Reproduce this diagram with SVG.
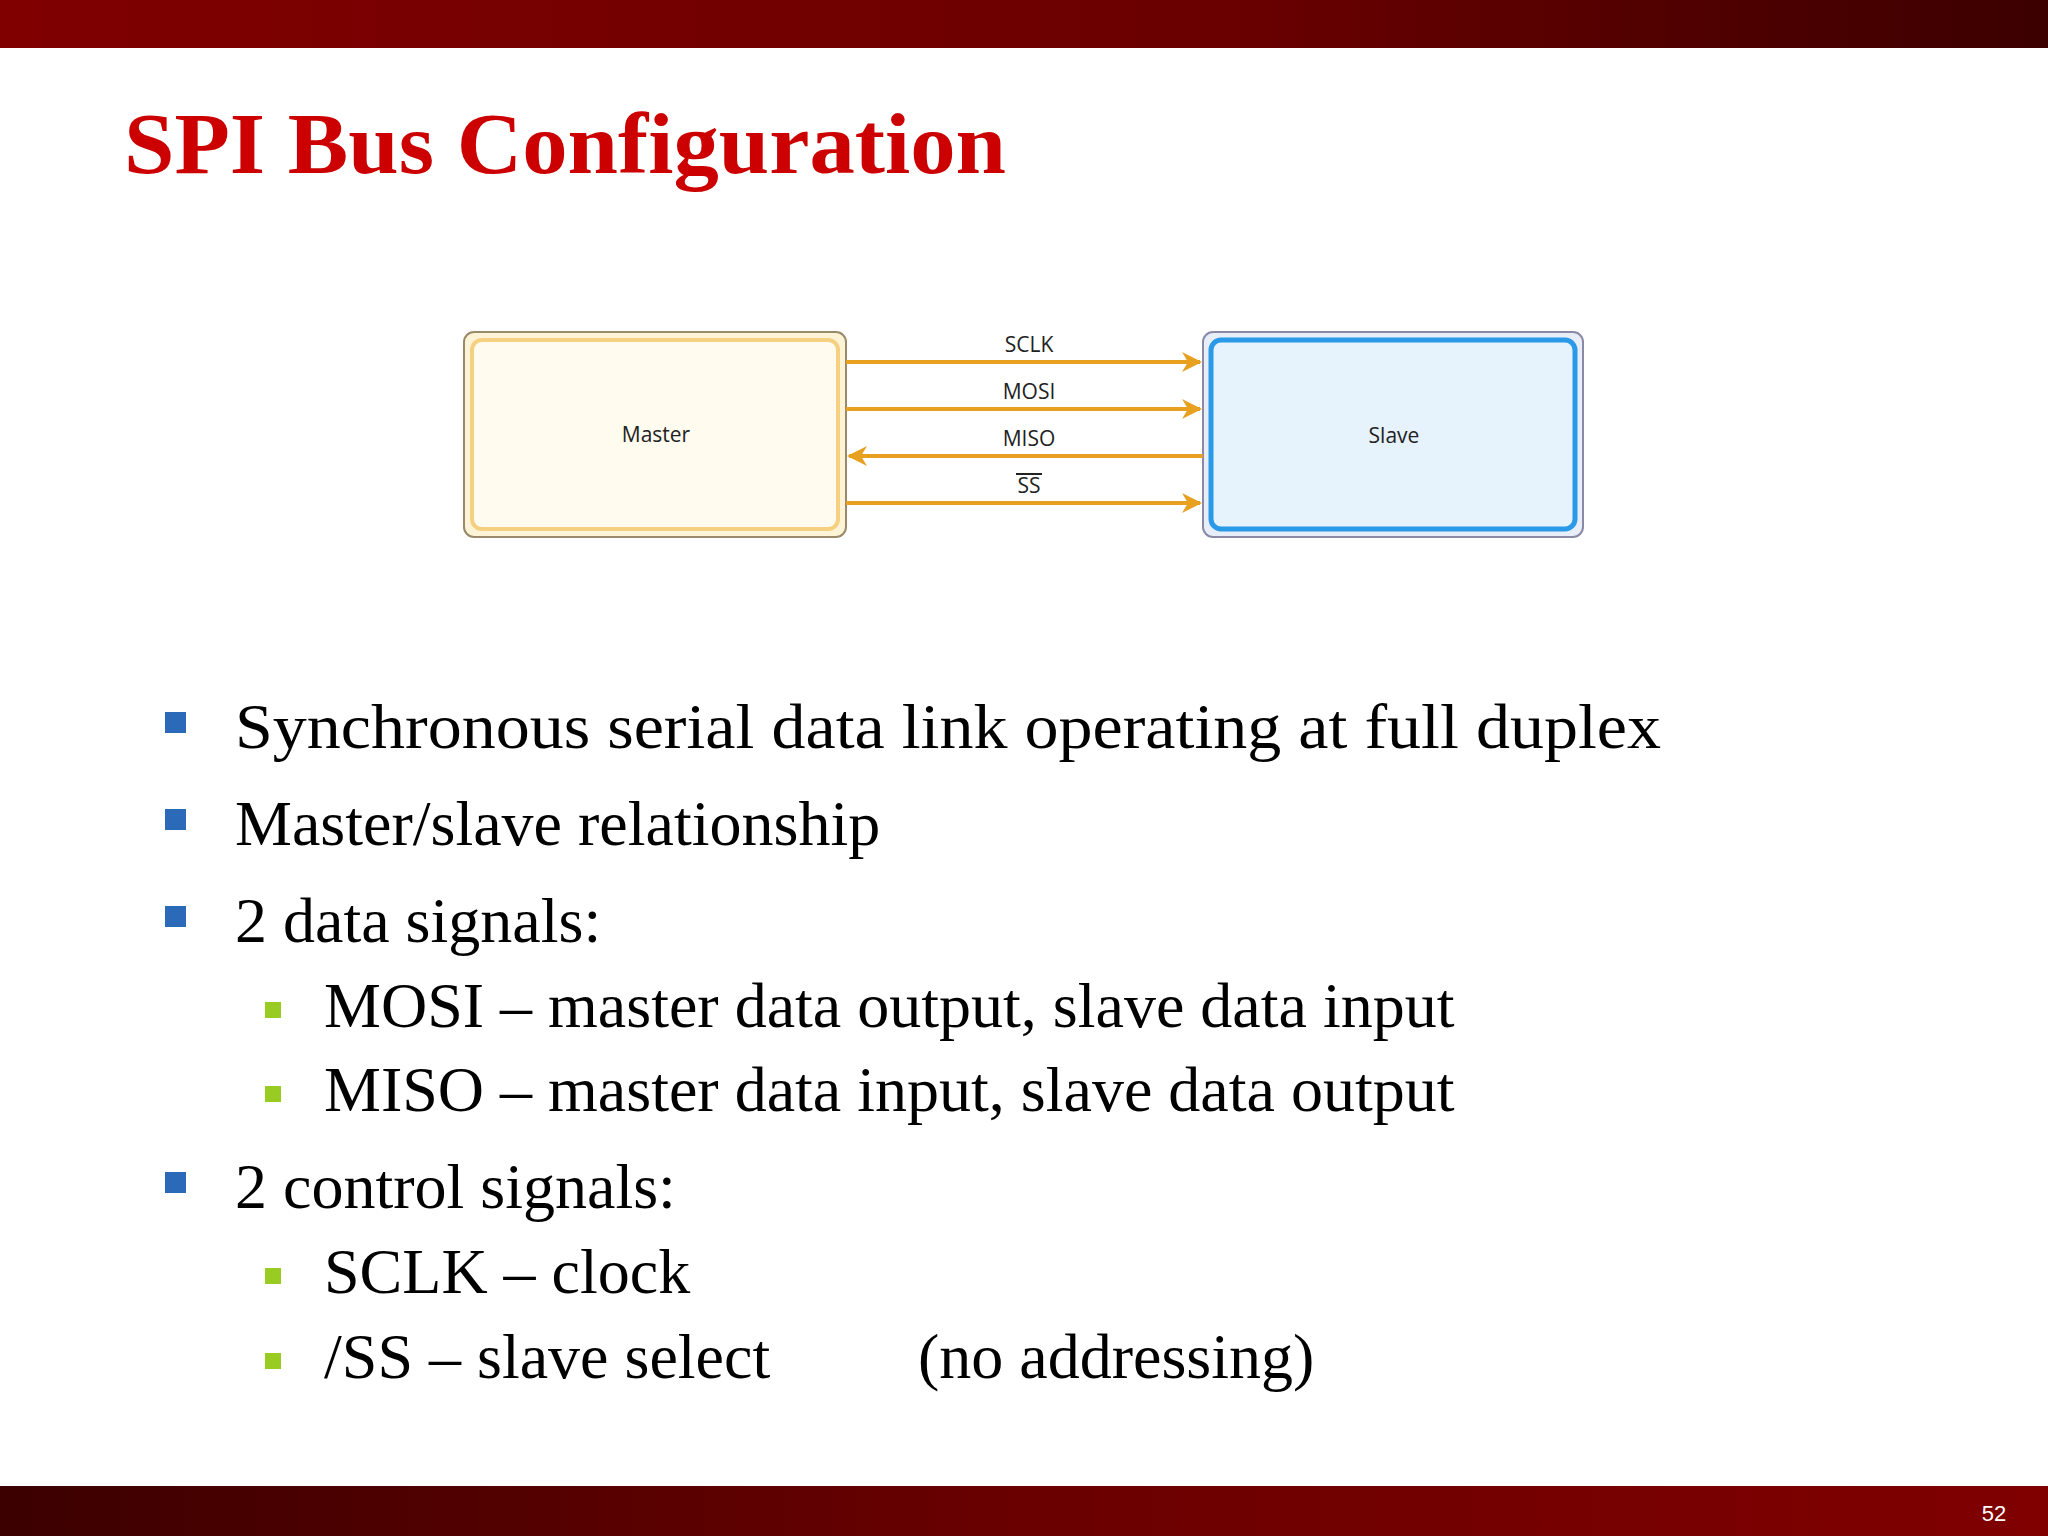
<svg xmlns="http://www.w3.org/2000/svg" width="2048" height="1536" viewBox="0 0 2048 1536">
<defs>
<linearGradient id="tb" x1="0" x2="1"><stop offset="0" stop-color="#800000"/><stop offset="0.6" stop-color="#6a0000"/><stop offset="1" stop-color="#3c0000"/></linearGradient>
<linearGradient id="bb" x1="0" x2="1"><stop offset="0" stop-color="#3c0000"/><stop offset="0.5" stop-color="#6a0000"/><stop offset="1" stop-color="#800000"/></linearGradient>
<marker id="ah" viewBox="0 0 10 10" refX="9" refY="5" markerWidth="5" markerHeight="5" orient="auto"><path d="M0,0 L10,5 L0,10 L3,5 z" fill="#e8a020"/></marker>
</defs>
<style>
.lbl{font-family:"Open Sans","DejaVu Sans",sans-serif;font-size:21px;fill:#222;text-anchor:middle}
.b{font-family:"Liberation Serif",serif;font-size:64px;fill:#000}
.w{stroke:#e8a020;stroke-width:4;fill:none;marker-end:url(#ah)}
</style>
<rect width="2048" height="1536" fill="#fff"/>
<rect x="0" y="0" width="2048" height="48" fill="url(#tb)"/>
<rect x="0" y="1486" width="2048" height="50" fill="url(#bb)"/>
<text x="1994" y="1521" font-family="Liberation Sans,sans-serif" font-size="22" fill="#fff" text-anchor="middle">52</text>
<text x="124" y="173" font-family="Liberation Serif,serif" font-weight="bold" font-size="86" fill="#cc0000" textLength="882" lengthAdjust="spacingAndGlyphs">SPI Bus Configuration</text>
<g id="master">
<rect x="464" y="332" width="382" height="205" rx="10" fill="#fdf3d6" stroke="#9a8a6a" stroke-width="2"/>
<rect x="472" y="340" width="366" height="189" rx="10" fill="#fffbee" stroke="#f5d080" stroke-width="4"/>
<text class="lbl" x="656" y="442">Master</text>
</g>
<g id="slave">
<rect x="1203" y="332" width="380" height="205" rx="10" fill="#e8eef8" stroke="#8a8aa8" stroke-width="2"/>
<rect x="1211" y="340" width="364" height="189" rx="10" fill="#e6f2fc" stroke="#2a9ae8" stroke-width="5"/>
<text class="lbl" x="1394" y="443">Slave</text>
</g>
<g id="connectors">
<line class="w" x1="846" y1="362" x2="1200" y2="362"/>
<line class="w" x1="846" y1="409" x2="1200" y2="409"/>
<line class="w" x1="1203" y1="456" x2="849" y2="456"/>
<line class="w" x1="846" y1="503" x2="1200" y2="503"/>
<text class="lbl" x="1029" y="352">SCLK</text>
<text class="lbl" x="1029" y="399">MOSI</text>
<text class="lbl" x="1029" y="446">MISO</text>
<text class="lbl" x="1029" y="493">SS</text>
<line x1="1016" y1="474" x2="1042" y2="474" stroke="#222" stroke-width="2"/>
</g>
<g id="bullets">
<g fill="#2a6ab8">
<rect x="165" y="712" width="21" height="21"/><rect x="165" y="809" width="21" height="21"/><rect x="165" y="906" width="21" height="21"/><rect x="165" y="1172" width="21" height="21"/>
</g>
<g fill="#99cc22">
<rect x="265" y="1002" width="16" height="16"/><rect x="265" y="1086" width="16" height="16"/><rect x="265" y="1268" width="16" height="16"/><rect x="265" y="1353" width="16" height="16"/>
</g>
<text class="b" x="235" y="748" textLength="1426" lengthAdjust="spacingAndGlyphs">Synchronous serial data link operating at full duplex</text>
<text class="b" x="235" y="845">Master/slave relationship</text>
<text class="b" x="235" y="942">2 data signals:</text>
<text class="b" x="324" y="1027">MOSI – master data output, slave data input</text>
<text class="b" x="324" y="1111">MISO – master data input, slave data output</text>
<text class="b" x="235" y="1208">2 control signals:</text>
<text class="b" x="324" y="1293">SCLK – clock</text>
<text class="b" x="324" y="1378">/SS – slave select</text>
<text class="b" x="918" y="1378">(no addressing)</text>
</g>
</svg>
